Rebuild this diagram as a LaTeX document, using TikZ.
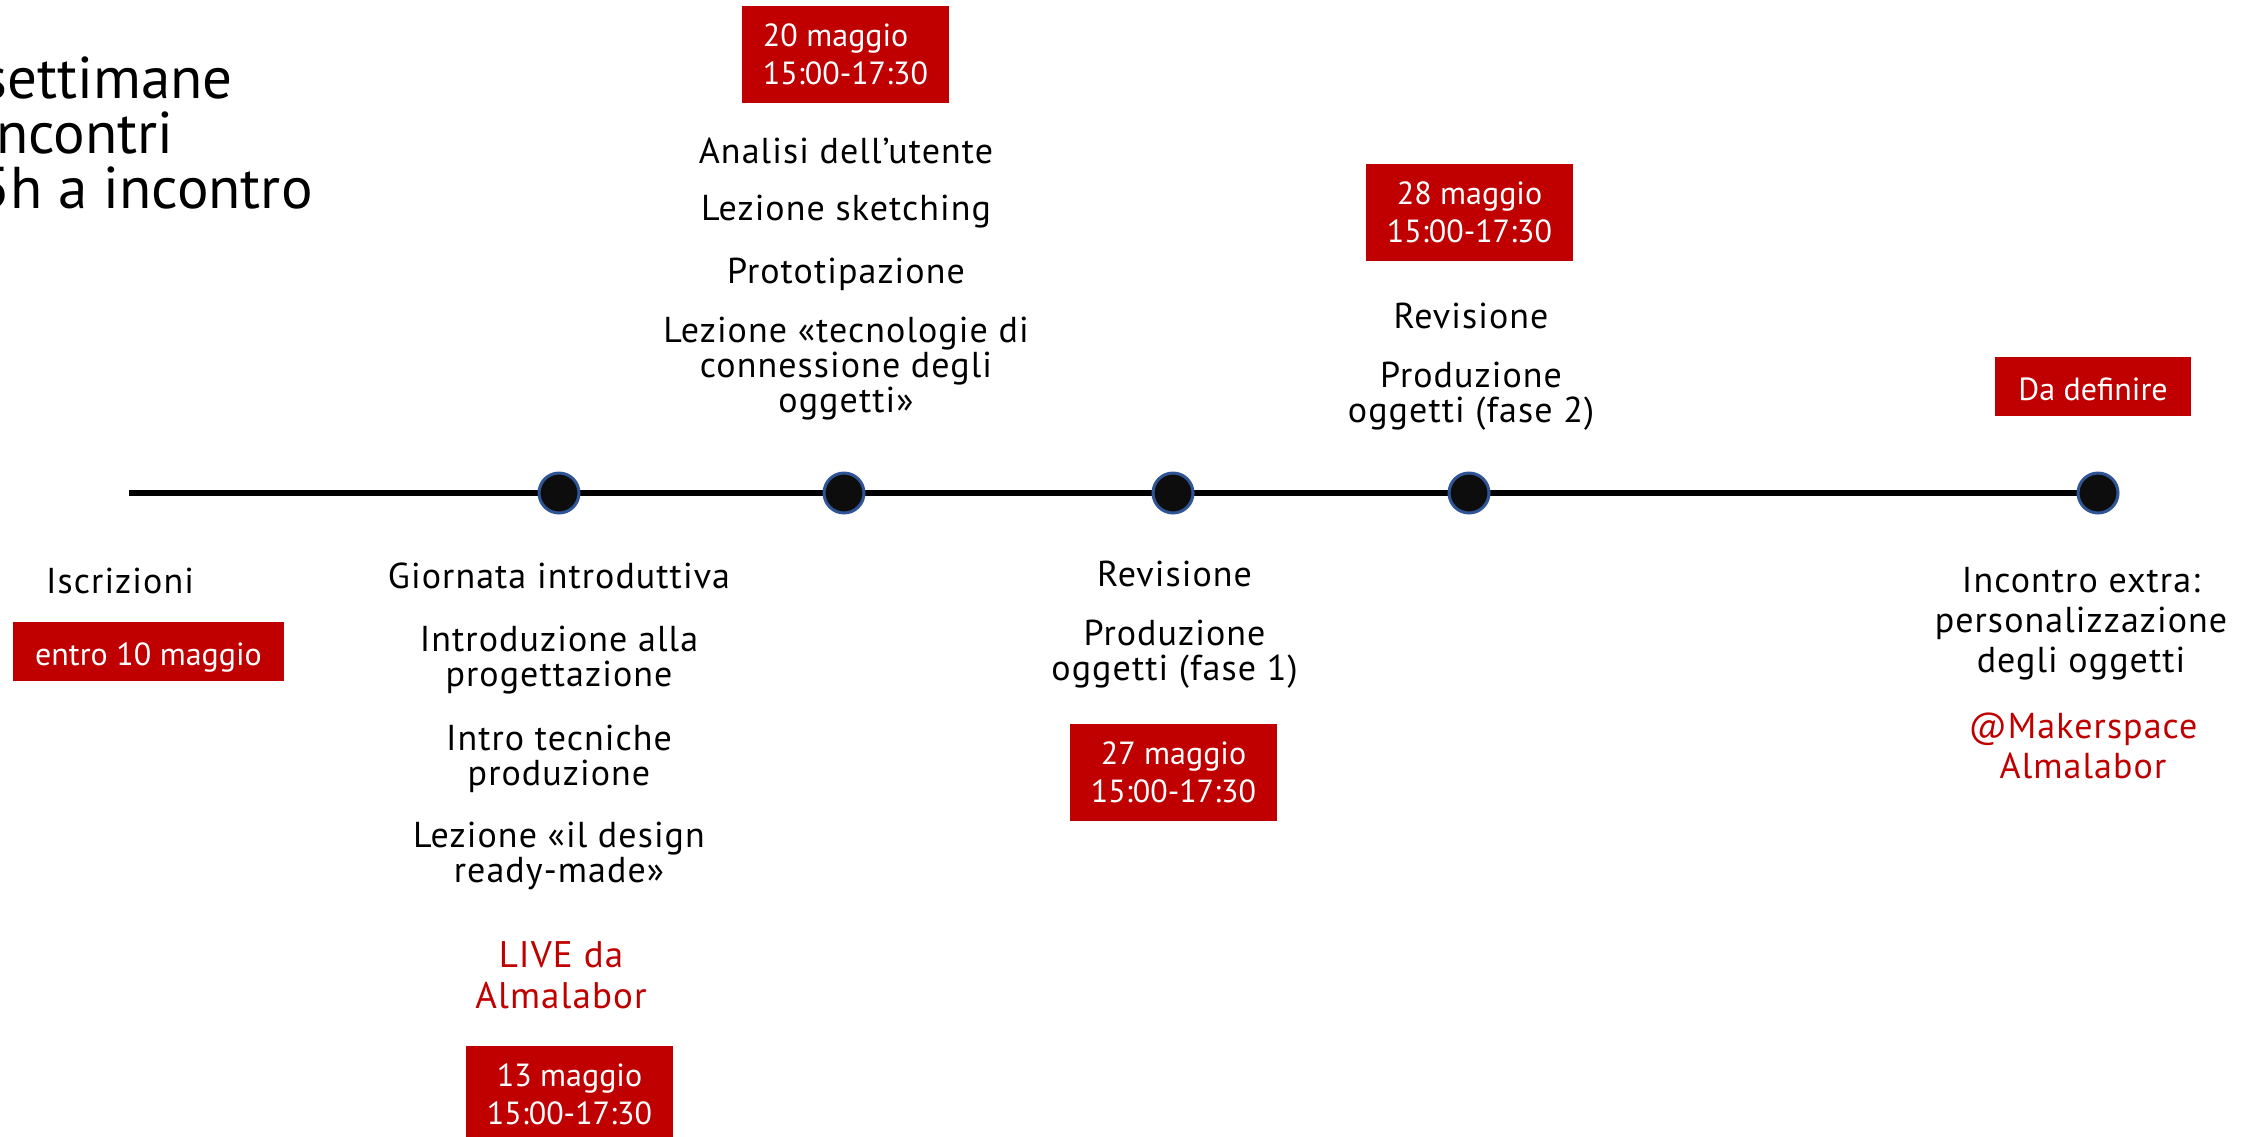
\documentclass[tikz,border=0pt]{standalone}
\usepackage{fontspec}
\setmainfont{PT Sans}
\newfontfamily\dinfont[LetterSpace=3]{PT Sans}
\definecolor{rd}{HTML}{C00000}
\definecolor{ring}{HTML}{2F5597}
\definecolor{dotc}{HTML}{0D0D0D}
\tikzset{
  txt/.style={inner sep=0pt, anchor=base, align=center, text=black,
    font=\dinfont\fontsize{18}{17.5}\selectfont},
  redtxt/.style={txt, text=rd},
  datebox/.style={rectangle, fill=rd, text=white, inner sep=0pt,
    minimum width=103.5pt, minimum height=48.5pt, align=center,
    font=\fontsize{16}{19}\selectfont},
  smallbox/.style={datebox, minimum height=29.5pt, text height=13.5pt, text depth=0pt},
  dotnode/.style={circle, fill=dotc, draw=ring, line width=1.5pt,
    minimum size=20pt, inner sep=0pt},
  titletxt/.style={inner sep=0pt, anchor=base east,
    font=\fontsize{29.5}{30}\selectfont},
}
\begin{document}
\begin{tikzpicture}[x=0.5pt,y=-0.5pt]
\useasboundingbox (0,0) rectangle (2252,1136);
\clip (0,0) rectangle (2252,1136);

% title (cut at the left edge)
\node[titletxt] (t1) at (233,98) {settimane};
\node[titletxt] (t2) at (174,153) {incontri};
\node[titletxt] (t3) at (313,208) {5h a incontro};

% timeline
\coordinate (start) at (129,493);
\coordinate (p1) at (559,493);
\coordinate (p2) at (844,493);
\coordinate (p3) at (1173,493);
\coordinate (p4) at (1469,493);
\coordinate (p5) at (2098,493);
\draw[line width=3pt] (start) -- (p5);
\node[dotnode] (d1) at (p1) {};
\node[dotnode] (d2) at (p2) {};
\node[dotnode] (d3) at (p3) {};
\node[dotnode] (d4) at (p4) {};
\node[dotnode] (d5) at (p5) {};

% Iscrizioni
\node[txt] (iscr) at (120,593) {Iscrizioni};
\node[smallbox, minimum width=135.5pt] (entro) at (148.5,651.5) {entro 10 maggio};

% column 1
\node[txt] (giorn) at (559,588) {Giornata introduttiva};
\node[txt] (introd) at (559,686) {Introduzione alla\\progettazione};
\node[txt] (tecn) at (559,785) {Intro tecniche\\produzione};
\node[txt] (lezdes) at (559,882) {Lezione «il design\\ready-made»};
\node[redtxt, font=\dinfont\fontsize{18.5}{20.5}\selectfont] (live) at (561,1008) {LIVE da\\Almalabor};
\node[datebox] (b13) at (569.5,1094.5) {13 maggio\\15:00-17:30};

% column 2
\node[datebox, align=left] (b20) at (845.5,54.5) {20 maggio\\15:00-17:30};
\node[txt] (analisi) at (846,163) {Analisi dell’utente};
\node[txt] (sketch) at (846,220) {Lezione sketching};
\node[txt] (proto) at (846,283) {Prototipazione};
\node[txt] (tecnol) at (846,412) {Lezione «tecnologie di\\connessione degli\\oggetti»};

% column 3
\node[txt] (rev1) at (1174.5,586) {Revisione};
\node[txt] (prod1) at (1174.5,680) {Produzione\\oggetti (fase 1)};
\node[datebox] (b27) at (1173.5,772) {27 maggio\\15:00-17:30};

% column 4
\node[datebox] (b28) at (1469.5,212) {28 maggio\\15:00-17:30};
\node[txt] (rev2) at (1471,328) {Revisione};
\node[txt] (prod2) at (1471,422) {Produzione\\oggetti (fase 2)};

% column 5
\node[smallbox, minimum width=98pt] (bda) at (2093,386.5) {Da definire};
\node[txt, font=\dinfont\fontsize{18}{20}\selectfont] (extra) at (2081,672) {Incontro extra:\\personalizzazione\\degli oggetti};
\node[redtxt, font=\dinfont\fontsize{18}{20}\selectfont] (maker) at (2083,778) {@Makerspace\\Almalabor};
\end{tikzpicture}
\end{document}
